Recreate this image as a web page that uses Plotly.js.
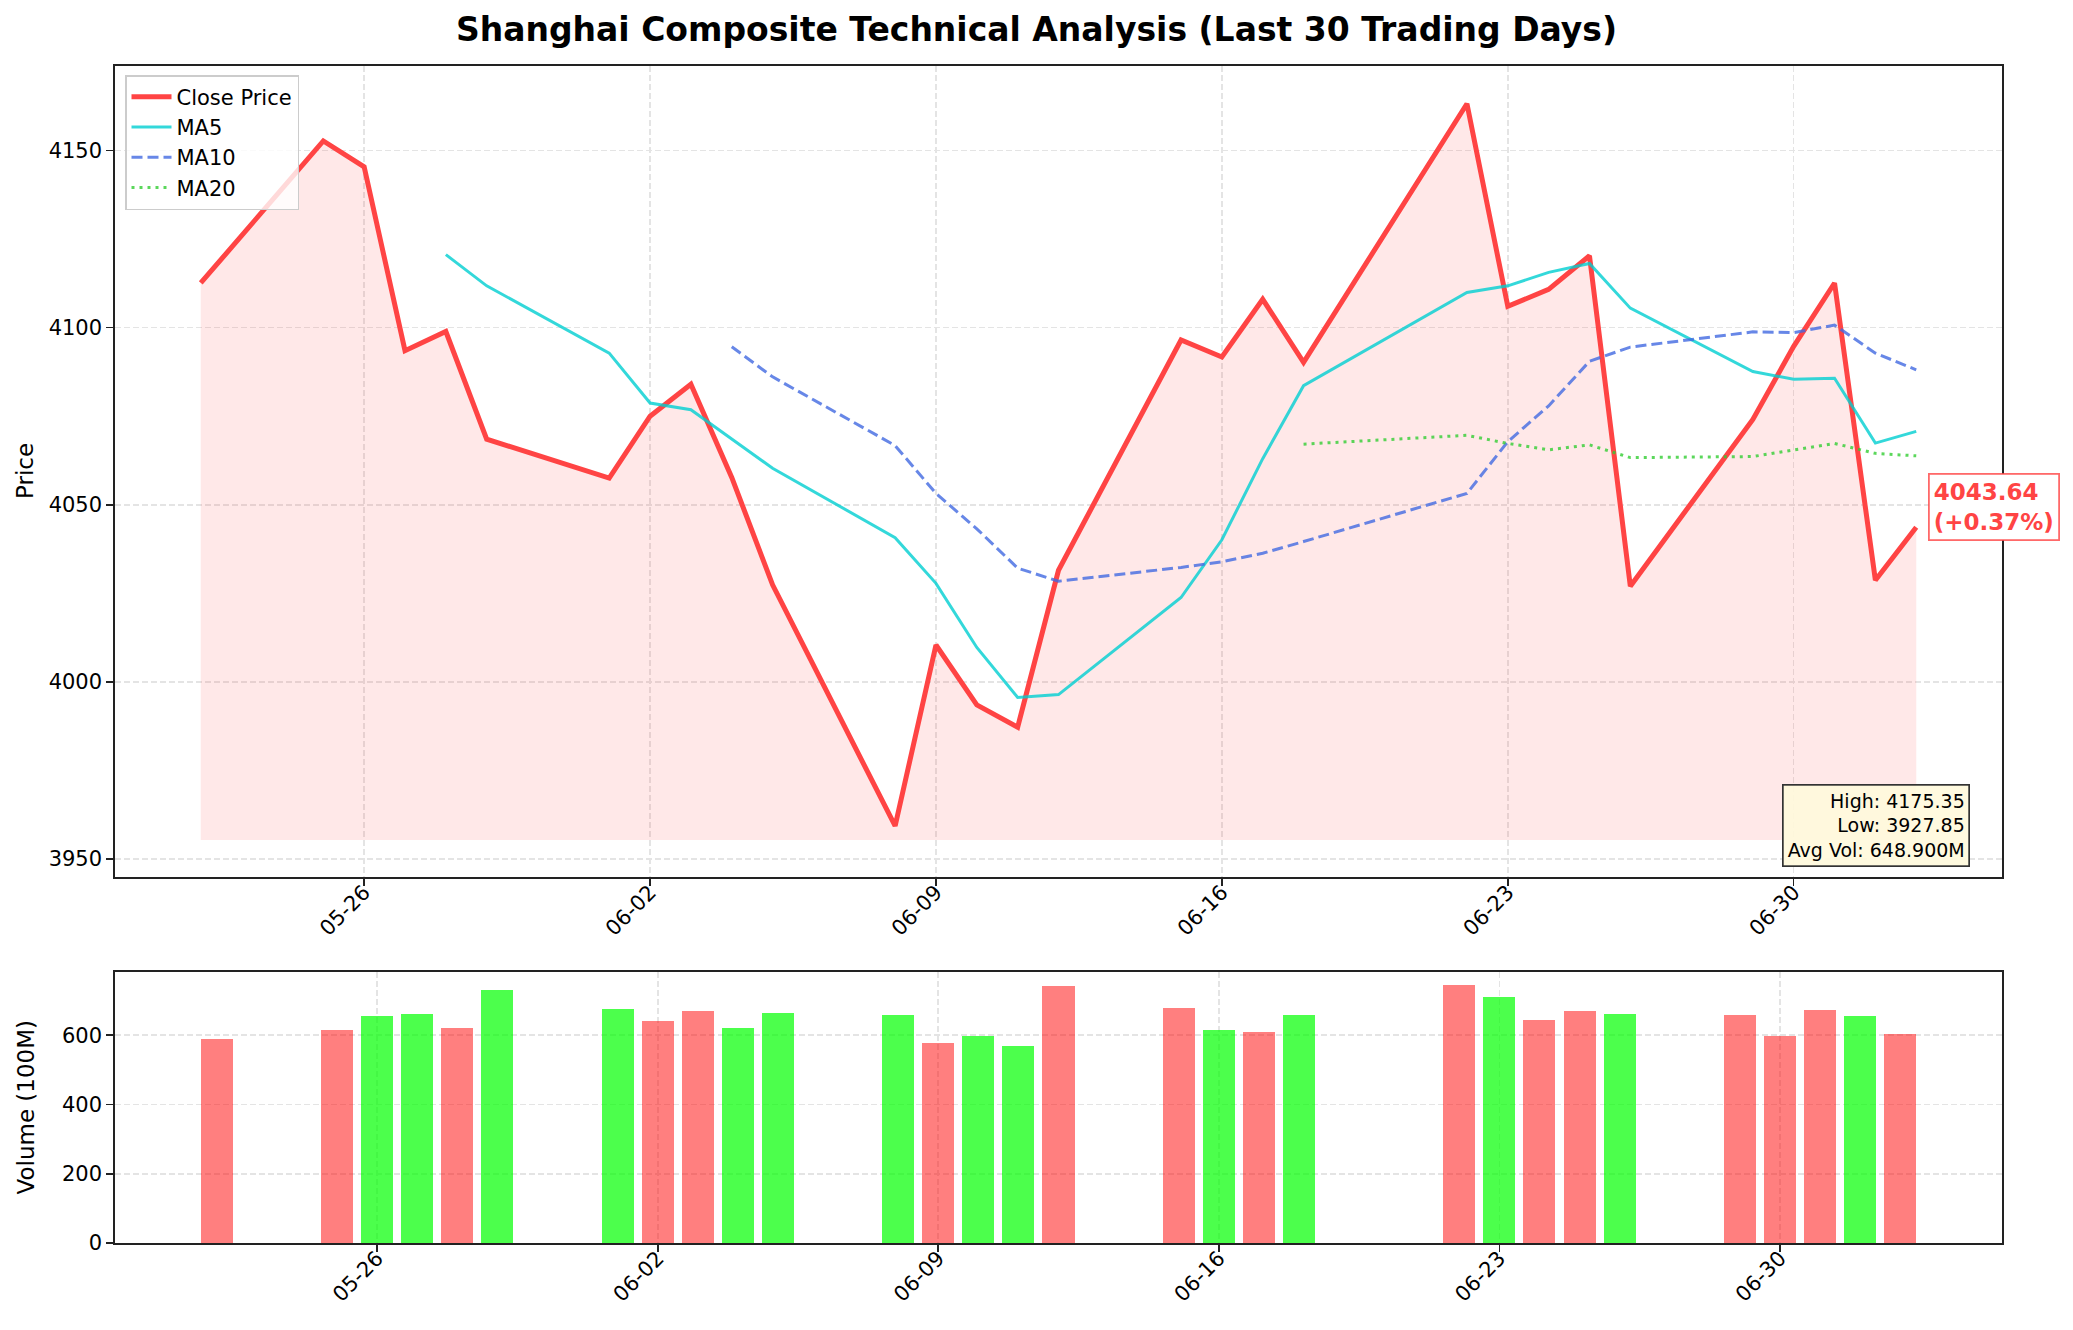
<!DOCTYPE html>
<html>
<head>
<meta charset="utf-8">
<script src="https://cdn.plot.ly/plotly-3.0.1.min.js"></script>
<style>
  html, body { margin: 0; padding: 0; background: #ffffff; }
  #chart { width: 2073px; height: 1330px; }
</style>
</head>
<body>
<div id="chart"></div>
<script>
// ---- Data ----
const dates = ['2026-05-22','2026-05-25','2026-05-26','2026-05-27','2026-05-28','2026-05-29',
  '2026-06-01','2026-06-02','2026-06-03','2026-06-04','2026-06-05',
  '2026-06-08','2026-06-09','2026-06-10','2026-06-11','2026-06-12',
  '2026-06-15','2026-06-16','2026-06-17','2026-06-18',
  '2026-06-22','2026-06-23','2026-06-24','2026-06-25','2026-06-26',
  '2026-06-29','2026-06-30','2026-07-01','2026-07-02','2026-07-03'];

const close = [4112.6, 4152.7, 4145.4, 4093.5, 4098.9, 4068.5,
  4057.5, 4075.0, 4084.0, 4057.7, 4027.4,
  3959.3, 4010.4, 3993.5, 3987.2, 4031.5,
  4096.5, 4091.7, 4108.0, 4090.2,
  4163.2, 4106.0, 4110.8, 4120.3, 4027.0,
  4074.1, 4094.7, 4112.6, 4028.7, 4043.64];

const ma5 = [null, null, null, null, 4120.6, 4111.8,
  4092.8, 4078.7, 4076.8, 4068.5, 4060.3,
  4040.7, 4027.8, 4009.7, 3995.6, 3996.4,
  4023.8, 4040.1, 4063.0, 4083.6,
  4109.9, 4111.8, 4115.6, 4118.1, 4105.5,
  4087.6, 4085.4, 4085.7, 4067.4, 4070.7];

const ma10 = [null, null, null, null, null, null,
  null, null, null, 4094.6, 4086.1,
  4066.7, 4053.2, 4043.2, 4032.1, 4028.4,
  4032.3, 4033.9, 4036.3, 4039.6,
  4053.2, 4067.8, 4077.9, 4090.5, 4094.5,
  4098.8, 4098.6, 4100.7, 4092.8, 4088.1];

const ma20 = [null, null, null, null, null, null,
  null, null, null, null, null,
  null, null, null, null, null,
  null, null, null, 4067.1,
  4069.6, 4067.3, 4065.5, 4066.9, 4063.3,
  4063.6, 4065.4, 4067.3, 4064.5, 4063.8];

const volume = [588.9, 615.0, 655.4, 662.2, 620.7, 730.6,
  675.7, 641.0, 669.9, 620.7, 664.1,
  658.3, 577.3, 597.6, 568.7, 742.2,
  678.6, 615.0, 609.2, 658.3,
  745.1, 710.4, 643.9, 669.9, 661.2,
  658.3, 597.6, 672.8, 655.4, 603.4];

const xTickVals = ['2026-05-26','2026-06-02','2026-06-09','2026-06-16','2026-06-23','2026-06-30'];
const xTickText = ['05-26','06-02','06-09','06-16','06-23','06-30'];
const priceTicks = [3950, 4000, 4050, 4100, 4150];
const volTicks = [0, 200, 400, 600];

const statHigh = '4175.35';
const statLow = '3927.85';
const statAvgVol = '648.900M';

// ---- Derived ----
const fillBase = Math.min(...close) * 0.999;
const baseLine = close.map(() => fillBase);
const last = close[close.length - 1];
const prev = close[close.length - 2];
const pct = (last / prev - 1) * 100;
const volColors = close.map((c, i) => (i === 0 || c >= close[i - 1]) ? 'rgba(255,0,0,0.5)' : 'rgba(0,255,0,0.7)');

const FONT = 'DejaVu Sans, Liberation Sans, sans-serif';
const DAY = 86400000;

const traces = [
  { x: dates, y: baseLine, type: 'scatter', mode: 'lines', line: { width: 0, color: 'rgba(0,0,0,0)' },
    showlegend: false, hoverinfo: 'skip', xaxis: 'x', yaxis: 'y' },
  { x: dates, y: close, type: 'scatter', mode: 'lines', line: { width: 0, color: 'rgba(0,0,0,0)' },
    fill: 'tonexty', fillcolor: 'rgba(255,68,68,0.12)', showlegend: false, hoverinfo: 'skip', xaxis: 'x', yaxis: 'y' },
  { x: dates, y: close, type: 'scatter', mode: 'lines', name: 'Close Price',
    line: { color: '#ff4444', width: 5 }, xaxis: 'x', yaxis: 'y' },
  { x: dates, y: ma5, type: 'scatter', mode: 'lines', name: 'MA5',
    line: { color: 'rgba(0,206,209,0.8)', width: 3 }, xaxis: 'x', yaxis: 'y' },
  { x: dates, y: ma10, type: 'scatter', mode: 'lines', name: 'MA10',
    line: { color: 'rgba(65,105,225,0.8)', width: 3, dash: '11px,5px' }, xaxis: 'x', yaxis: 'y' },
  { x: dates, y: ma20, type: 'scatter', mode: 'lines', name: 'MA20',
    line: { color: 'rgba(50,205,50,0.8)', width: 3, dash: '3px,5px' }, xaxis: 'x', yaxis: 'y' },
  { x: dates, y: volume, type: 'bar', width: 0.8 * DAY, marker: { color: volColors, line: { width: 0 } },
    showlegend: false, xaxis: 'x2', yaxis: 'y2' }
];

const gridStyle = { showgrid: true, gridcolor: '#e4e4e4', gridwidth: 1.6, griddash: '6px,3px' };
const axisLine = { showline: true, linecolor: '#222', linewidth: 1.7, mirror: true,
  ticks: 'outside', ticklen: 7, tickwidth: 1.6, tickcolor: '#222', zeroline: false,
  tickfont: { family: FONT, size: 21, color: '#000' } };

const xDomain = [115 / 2073, 2002 / 2073];

const layout = {
  width: 2073, height: 1330,
  margin: { l: 0, r: 0, t: 0, b: 0 },
  paper_bgcolor: '#ffffff', plot_bgcolor: '#ffffff',
  font: { family: FONT, color: '#000' },
  title: { text: '<b>Shanghai Composite Technical Analysis (Last 30 Trading Days)</b>',
    font: { family: FONT, size: 33, color: '#000' }, x: 0.5, xanchor: 'center',
    y: 1 - 29 / 1330, yanchor: 'middle', xref: 'paper', yref: 'paper' },
  showlegend: true,
  legend: { x: 125 / 2073, y: 1 - 75 / 1330, xanchor: 'left', yanchor: 'top', traceorder: 'normal',
    bgcolor: 'rgba(255,255,255,0.8)', bordercolor: '#cccccc', borderwidth: 1.5,
    font: { family: FONT, size: 21, color: '#000' }, itemwidth: 40, tracegroupgap: 0 },
  xaxis: Object.assign({}, axisLine, gridStyle, {
    domain: xDomain, anchor: 'y', type: 'date',
    range: ['2026-05-19 21:36', '2026-07-05 02:24'],
    tickmode: 'array', tickvals: xTickVals, ticktext: xTickText, tickangle: -45, ticklabelstandoff: -14 }),
  yaxis: Object.assign({}, axisLine, gridStyle, {
    domain: [1 - 877 / 1330, 1 - 65.5 / 1330], anchor: 'x',
    range: [3944.9, 4174.0], tickmode: 'array', tickvals: priceTicks,
    ticktext: priceTicks.map(String) }),
  xaxis2: Object.assign({}, axisLine, gridStyle, {
    domain: xDomain, anchor: 'y2', type: 'date',
    range: ['2026-05-19 11:02', '2026-07-05 12:58'],
    tickmode: 'array', tickvals: xTickVals, ticktext: xTickText, tickangle: -45, ticklabelstandoff: -14 }),
  yaxis2: Object.assign({}, axisLine, gridStyle, {
    domain: [1 - 1243 / 1330, 1 - 972 / 1330], anchor: 'x2',
    range: [0, 782.4], tickmode: 'array', tickvals: volTicks, ticktext: volTicks.map(String) }),
  bargap: 0,
  annotations: [
    { text: 'Price', textangle: -90, xref: 'paper', yref: 'paper',
      x: 25 / 2073, y: 1 - 471 / 1330, xanchor: 'center', yanchor: 'middle', showarrow: false,
      font: { family: FONT, size: 23, color: '#000' } },
    { text: 'Volume (100M)', textangle: -90, xref: 'paper', yref: 'paper',
      x: 25 / 2073, y: 1 - 1107.5 / 1330, xanchor: 'center', yanchor: 'middle', showarrow: false,
      font: { family: FONT, size: 23, color: '#000' } },
    { text: '<b>' + last.toFixed(2) + '<br>(' + (pct >= 0 ? '+' : '') + pct.toFixed(2) + '%)</b>',
      xref: 'x', yref: 'y', x: dates[dates.length - 1], y: last, xanchor: 'left', yanchor: 'middle',
      xshift: 12, yshift: 20, showarrow: false, align: 'left',
      font: { family: FONT, size: 23, color: '#ff4444' },
      bgcolor: '#ffffff', bordercolor: 'rgba(255,68,68,0.8)', borderwidth: 1.8, borderpad: 4 },
    { text: 'High: ' + statHigh + '<br>Low: ' + statLow + '<br>Avg Vol: ' + statAvgVol,
      xref: 'paper', yref: 'paper', x: 1970 / 2073, y: 1 - 867 / 1330, xanchor: 'right', yanchor: 'bottom',
      showarrow: false, align: 'right',
      font: { family: FONT, size: 19, color: '#000' },
      bgcolor: 'rgba(255,250,220,0.9)', bordercolor: '#333333', borderwidth: 1.7, borderpad: 4 }
  ]
};

Plotly.newPlot('chart', traces, layout, { displayModeBar: false, staticPlot: true });
</script>
</body>
</html>
